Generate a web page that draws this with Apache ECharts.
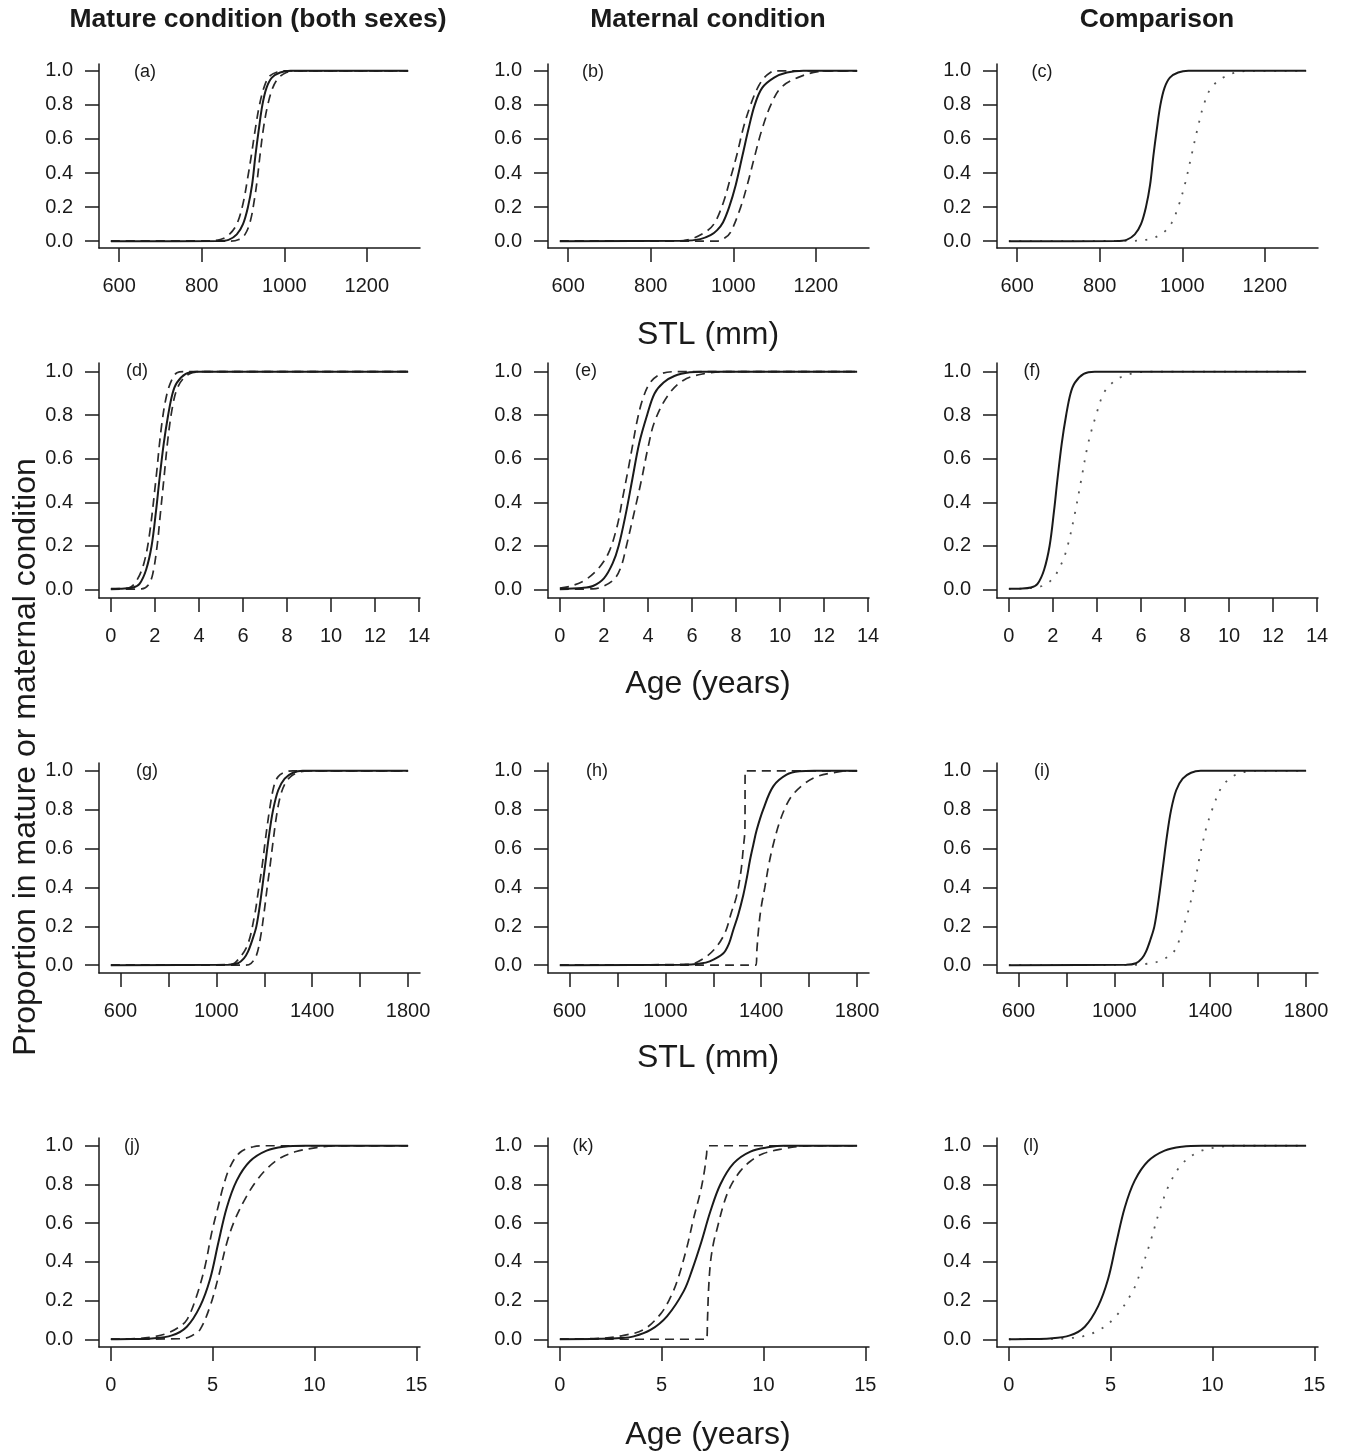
<!DOCTYPE html>
<html><head><meta charset="utf-8">
<script src="https://cdn.jsdelivr.net/npm/echarts@6/dist/echarts.min.js"></script>
<style>html,body{margin:0;padding:0;background:#fff}#c{width:1347px;height:1454px}</style>
</head><body><div id="c"></div>
<script>
// ---------------- text ----------------
const colTitles = ['Mature condition (both sexes)', 'Maternal condition', 'Comparison'];
const rowXTitles = ['STL (mm)', 'Age (years)', 'STL (mm)', 'Age (years)'];
const yTitle = 'Proportion in mature or maternal condition';
const panelLabels = ['(a)','(b)','(c)','(d)','(e)','(f)','(g)','(h)','(i)','(j)','(k)','(l)'];

// ---------------- ticks ----------------
const yTicks = [0, 0.2, 0.4, 0.6, 0.8, 1.0];
const xTicksRow1 = [600, 800, 1000, 1200];
const xTicksRow2 = [0, 2, 4, 6, 8, 10, 12, 14];
const xTicksRow3 = [600, 800, 1000, 1200, 1400, 1600, 1800];
const xLabelsRow3 = [600, 1000, 1400, 1800];
const xTicksRow4 = [0, 5, 10, 15];
// data extent of each row's x variable
const xDataRow1 = [580, 1300];
const xDataRow2 = [0, 13.5];
const xDataRow3 = [560, 1800];
const xDataRow4 = [0, 14.6];

// ---------------- curves ----------------
// (a) STL, mature, both sexes
const aFit   = [[580,0],[840,0.001],[865,0.008],[885,0.04],[900,0.1],[912,0.2],[922,0.33],[930,0.5],[938,0.65],[947,0.8],[957,0.9],[970,0.96],[990,0.99],[1015,1],[1300,1]];
const aLower = [[580,0],[820,0.002],[845,0.01],[865,0.035],[885,0.1],[900,0.22],[912,0.38],[920,0.5],[930,0.66],[940,0.8],[952,0.91],[965,0.97],[985,0.995],[1000,1],[1300,1]];
const aUpper = [[580,0],[870,0],[890,0.01],[905,0.04],[918,0.12],[928,0.25],[935,0.37],[941,0.5],[950,0.67],[960,0.8],[972,0.9],[985,0.955],[1005,0.99],[1030,1],[1300,1]];
// (b) STL, maternal
const bFit   = [[580,0],[880,0.002],[920,0.012],[945,0.035],[961,0.065],[975,0.11],[990,0.2],[1006,0.33],[1022,0.5],[1037,0.66],[1052,0.8],[1070,0.9],[1099,0.96],[1130,0.99],[1170,1],[1300,1]];
const bLower = [[580,0],[870,0.002],[900,0.015],[930,0.05],[953,0.1],[975,0.22],[992,0.36],[1008,0.5],[1025,0.67],[1042,0.8],[1059,0.9],[1075,0.96],[1090,0.99],[1100,1],[1300,1]];
const bUpper = [[580,0],[960,0],[980,0.02],[994,0.055],[1018,0.2],[1035,0.34],[1052,0.5],[1070,0.66],[1091,0.8],[1115,0.9],[1156,0.96],[1205,0.995],[1240,1],[1300,1]];
// (d) age, mature
const dFit   = [[0,0.002],[0.5,0.003],[1.0,0.008],[1.3,0.025],[1.6,0.09],[1.85,0.2],[2.05,0.36],[2.2,0.5],[2.4,0.67],[2.6,0.8],[2.8,0.9],[3.0,0.95],[3.4,0.99],[3.9,1],[13.5,1]];
const dLower = [[0,0.002],[0.8,0.006],[1.17,0.04],[1.5,0.12],[1.75,0.25],[2.04,0.5],[2.3,0.75],[2.55,0.9],[2.8,0.97],[3.0,0.995],[3.3,1],[13.5,1]];
const dUpper = [[0,0],[1.4,0.002],[1.7,0.02],[1.9,0.07],[2.1,0.2],[2.25,0.35],[2.4,0.5],[2.6,0.7],[2.8,0.84],[3.0,0.92],[3.3,0.97],[3.7,0.995],[4.2,1],[13.5,1]];
// (e) age, maternal
const eFit   = [[0,0.002],[1,0.006],[1.5,0.015],[2.0,0.05],[2.4,0.12],[2.67,0.2],[3.0,0.35],[3.28,0.5],[3.6,0.67],[3.96,0.8],[4.3,0.9],[4.71,0.95],[5.2,0.98],[5.9,0.997],[6.5,1],[13.5,1]];
const eLower = [[0,0.005],[0.5,0.015],[1.1,0.04],[1.7,0.09],[2.2,0.165],[2.6,0.29],[2.85,0.42],[3.1,0.55],[3.3,0.66],[3.5,0.77],[3.75,0.87],[4.1,0.95],[4.6,0.99],[5.2,1],[13.5,1]];
const eUpper = [[0,0],[1.5,0.002],[2.0,0.015],[2.5,0.05],[2.8,0.11],[3.0,0.19],[3.3,0.32],[3.7,0.5],[4.0,0.65],[4.3,0.77],[4.9,0.89],[5.6,0.96],[6.5,0.99],[7.5,1],[13.5,1]];
// (g) STL, mature
const gFit   = [[560,0],[1050,0.002],[1090,0.01],[1115,0.035],[1132,0.07],[1150,0.13],[1167,0.2],[1185,0.34],[1202,0.5],[1220,0.67],[1237,0.8],[1258,0.9],[1285,0.96],[1320,0.99],[1360,1],[1800,1]];
const gLower = [[560,0],[1060,0.003],[1098,0.04],[1132,0.11],[1160,0.26],[1175,0.38],[1190,0.5],[1205,0.65],[1222,0.8],[1240,0.92],[1258,0.97],[1290,0.995],[1320,1],[1800,1]];
const gUpper = [[560,0],[1120,0],[1145,0.01],[1167,0.05],[1185,0.15],[1200,0.28],[1212,0.4],[1223,0.5],[1237,0.64],[1250,0.76],[1265,0.86],[1285,0.93],[1310,0.97],[1340,0.99],[1380,1],[1800,1]];
// (h) STL, maternal
const hFit   = [[560,0],[1080,0.002],[1140,0.008],[1185,0.02],[1241,0.06],[1265,0.11],[1283,0.18],[1304,0.26],[1325,0.36],[1340,0.45],[1353,0.54],[1367,0.62],[1381,0.695],[1408,0.8],[1450,0.92],[1506,0.98],[1560,0.997],[1620,1],[1800,1]];
const hLower = [[560,0],[1100,0.005],[1160,0.035],[1210,0.09],[1250,0.17],[1275,0.27],[1296,0.35],[1315,0.48],[1325,0.6],[1332,0.7],[1333,1],[1800,1]];
const hUpper = [[560,0],[1378,0],[1382,0.08],[1390,0.2],[1400,0.3],[1415,0.4],[1432,0.52],[1452,0.63],[1475,0.73],[1500,0.81],[1527,0.87],[1576,0.93],[1632,0.97],[1700,0.99],[1760,1],[1800,1]];
// (j) age, mature
const jFit   = [[0,0],[1,0.001],[2,0.004],[3,0.02],[3.73,0.065],[4.38,0.17],[4.87,0.31],[5.28,0.5],[5.69,0.68],[6.18,0.82],[6.83,0.92],[7.65,0.975],[8.5,0.995],[9.5,1],[14.6,1]];
const jLower = [[0,0.001],[1.4,0.004],[2.2,0.015],[2.75,0.03],[3.3,0.06],[3.73,0.1],[4.2,0.22],[4.62,0.375],[4.95,0.55],[5.28,0.69],[5.52,0.79],[5.85,0.89],[6.34,0.965],[7.0,0.995],[7.5,1],[14.6,1]];
const jUpper = [[0,0],[3.5,0.003],[4.0,0.02],[4.38,0.05],[4.87,0.17],[5.3,0.33],[5.7,0.5],[6.1,0.62],[6.67,0.74],[7.16,0.82],[7.65,0.88],[8.3,0.935],[9.1,0.97],[10.1,0.99],[11,1],[14.6,1]];
// (k) age, maternal
const kFit   = [[0,0],[2,0.002],[3,0.006],[3.63,0.015],[4.45,0.048],[5.27,0.12],[6.09,0.25],[6.5,0.36],[6.94,0.5],[7.39,0.66],[7.88,0.8],[8.54,0.91],[9.36,0.97],[10.3,0.993],[11,1],[14.6,1]];
const kLower = [[0,0.001],[2,0.005],[3.14,0.02],[4.12,0.05],[4.94,0.13],[5.4,0.21],[5.76,0.3],[6.25,0.48],[6.58,0.63],[6.9,0.76],[7.1,0.87],[7.2,0.95],[7.3,1],[14.6,1]];
const kUpper = [[0,0],[7.2,0],[7.25,0.1],[7.3,0.25],[7.4,0.4],[7.55,0.5],[7.72,0.57],[8.05,0.7],[8.38,0.79],[8.87,0.87],[9.36,0.92],[10.0,0.96],[11.0,0.985],[11.8,0.997],[12.5,1],[14.6,1]];

// ---------------- layout ----------------
const FONT = '"Liberation Sans", Arial, Helvetica, sans-serif';
const INK = '#1a1a1a';
const colLeft = [99, 548, 997];
const plotW = 321;
const rowTop = [64, 363, 763, 1138];
const rowH = [184, 235, 210, 209];
const labelDx = [[46,45,45],[38,38,35],[48,49,45],[33,35,34]];
const xTitleY = [335, 684, 1058, 1435];

const rows = [
  {data: xDataRow1, ticks: xTicksRow1, labels: xTicksRow1,
   panels: [[[aFit,'fit'],[aLower,'ci'],[aUpper,'ci']], [[bFit,'fit'],[bLower,'ci'],[bUpper,'ci']], [[aFit,'fit'],[bFit,'cmp']]]},
  {data: xDataRow2, ticks: xTicksRow2, labels: xTicksRow2,
   panels: [[[dFit,'fit'],[dLower,'ci'],[dUpper,'ci']], [[eFit,'fit'],[eLower,'ci'],[eUpper,'ci']], [[dFit,'fit'],[eFit,'cmp']]]},
  {data: xDataRow3, ticks: xTicksRow3, labels: xLabelsRow3,
   panels: [[[gFit,'fit'],[gLower,'ci'],[gUpper,'ci']], [[hFit,'fit'],[hLower,'ci'],[hUpper,'ci']], [[gFit,'fit'],[hFit,'cmp']]]},
  {data: xDataRow4, ticks: xTicksRow4, labels: xTicksRow4,
   panels: [[[jFit,'fit'],[jLower,'ci'],[jUpper,'ci']], [[kFit,'fit'],[kLower,'ci'],[kUpper,'ci']], [[jFit,'fit'],[kFit,'cmp']]]}
];

const styles = {
  fit: {color: INK, width: 2, type: 'solid'},
  ci:  {color: '#2a2a2a', width: 1.7, type: [9, 6]},
  cmp: {color: '#555', width: 1.8, type: [2, 8.5]}
};

const grid = [], xAxis = [], yAxis = [], series = [], graphic = [];
rows.forEach((row, r) => {
  const span = row.data[1] - row.data[0];
  const xmin = row.data[0] - 0.04 * span, xmax = row.data[1] + 0.04 * span;
  row.panels.forEach((panel, c) => {
    const idx = grid.length;
    grid.push({left: colLeft[c], top: rowTop[r], width: plotW, height: rowH[r], containLabel: false});
    xAxis.push({
      type: 'value', gridIndex: idx, min: xmin, max: xmax,
      axisLine: {show: true, onZero: false, lineStyle: {color: INK, width: 1.5}},
      axisTick: {show: true, length: 14, customValues: row.ticks, lineStyle: {color: INK, width: 1.5}},
      axisLabel: {show: true, customValues: row.labels, margin: 28, color: INK, fontSize: 20, fontFamily: FONT,
                  formatter: v => String(Math.round(v))},
      splitLine: {show: false}
    });
    yAxis.push({
      type: 'value', gridIndex: idx, min: -0.04, max: 1.04,
      axisLine: {show: true, onZero: false, lineStyle: {color: INK, width: 1.5}},
      axisTick: {show: true, length: 14, customValues: yTicks, lineStyle: {color: INK, width: 1.5}},
      axisLabel: {show: true, customValues: yTicks, margin: 26, color: INK, fontSize: 20, fontFamily: FONT,
                  formatter: v => Number(v).toFixed(1)},
      splitLine: {show: false}
    });
    panel.forEach(([data, kind]) => {
      series.push({
        type: 'line', xAxisIndex: idx, yAxisIndex: idx, data: data,
        showSymbol: false, smooth: 0.35, silent: true,
        lineStyle: styles[kind], z: kind === 'fit' ? 3 : 2
      });
    });
    graphic.push({type: 'text', x: colLeft[c] + labelDx[r][c], y: rowTop[r] + 8,
      style: {text: panelLabels[idx], fill: INK, font: '18px ' + FONT, textAlign: 'center', textVerticalAlign: 'middle'}});
  });
  graphic.push({type: 'text', x: 708, y: xTitleY[r],
    style: {text: rowXTitles[r], fill: INK, font: '32px ' + FONT, textAlign: 'center', textVerticalAlign: 'middle'}});
});
const titleX = [258, 708, 1157];
colTitles.forEach((t, c) => graphic.push({type: 'text', x: titleX[c], y: 20,
  style: {text: t, fill: INK, font: 'bold 26.5px ' + FONT, textAlign: 'center', textVerticalAlign: 'middle'}}));
graphic.push({type: 'text', x: 26, y: 757, rotation: Math.PI / 2,
  style: {text: yTitle, fill: INK, font: '32px ' + FONT, textAlign: 'center', textVerticalAlign: 'middle'}});

const chart = echarts.init(document.getElementById('c'));
chart.setOption({animation: false, backgroundColor: '#fff', grid, xAxis, yAxis, series, graphic});
</script></body></html>
